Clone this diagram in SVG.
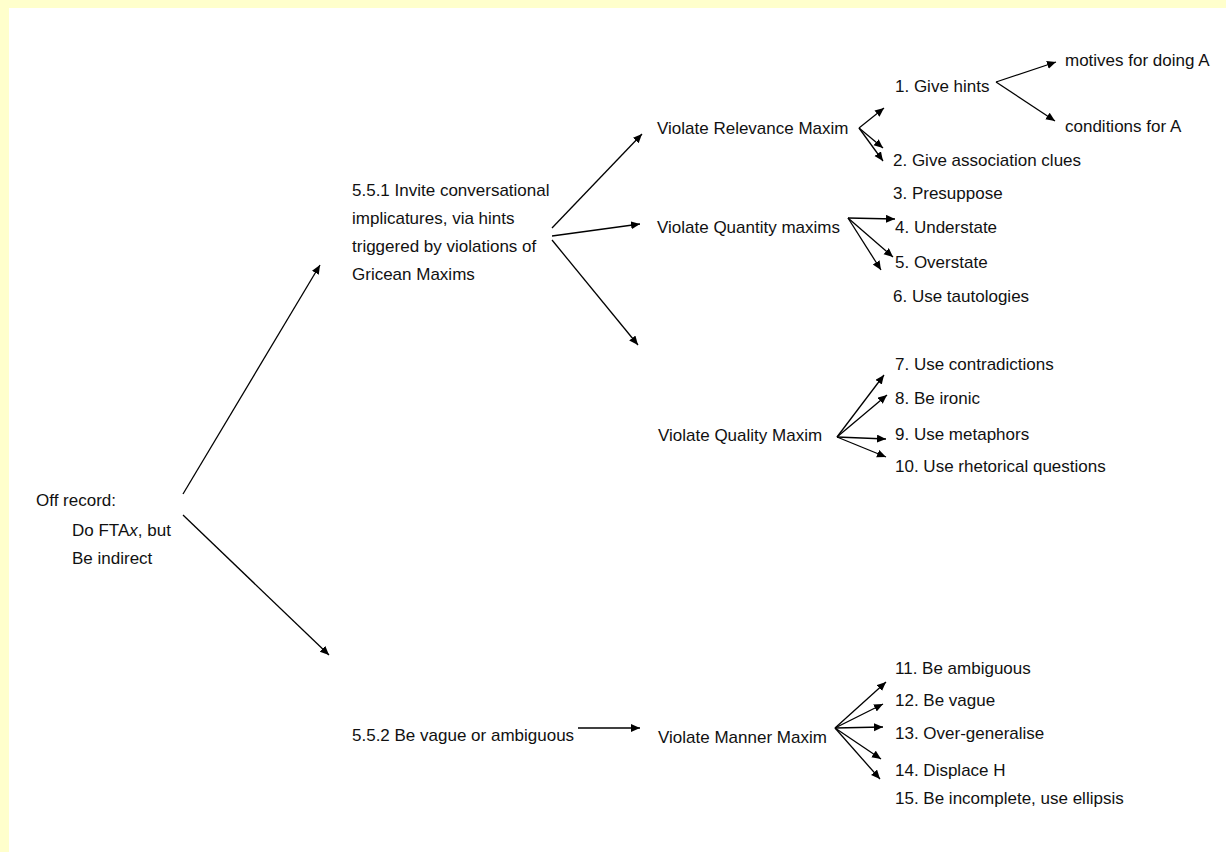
<svg xmlns="http://www.w3.org/2000/svg" width="1226" height="852" viewBox="0 0 1226 852">
<style>
text{font-family:"Liberation Sans",Arial,sans-serif;font-size:17px;fill:#111}
.c line{stroke:#000;stroke-width:1.3;marker-end:url(#ah)}
</style>
<defs>
<marker id="ah" markerUnits="userSpaceOnUse" markerWidth="12" markerHeight="10" refX="9" refY="4" orient="auto">
<path d="M0,0 L9,4 L0,8 Z" fill="#000"/>
</marker>
</defs>
<rect width="1226" height="852" fill="#fff"/>
<rect x="0" y="0" width="1226" height="8" fill="#ffffcc"/>
<rect x="0" y="0" width="9" height="852" fill="#ffffcc"/>

<g id="offrecord">
<text x="36" y="506">Off record:</text>
<text x="72" y="536">Do FTA<tspan font-style="italic">x</tspan>, but</text>
<text x="72" y="564">Be indirect</text>
</g>
<g id="n551">
<text x="352" y="196">5.5.1 Invite conversational</text>
<text x="352" y="224">implicatures, via hints</text>
<text x="352" y="252">triggered by violations of</text>
<text x="352" y="280">Gricean Maxims</text>
</g>
<g id="n552"><text x="352" y="741">5.5.2 Be vague or ambiguous</text></g>
<g id="relevance"><text x="657" y="134">Violate Relevance Maxim</text></g>
<g id="quantity"><text x="657" y="233">Violate Quantity maxims</text></g>
<g id="quality"><text x="658" y="441">Violate Quality Maxim</text></g>
<g id="manner"><text x="658" y="743">Violate Manner Maxim</text></g>
<g id="hints"><text x="895" y="92">1. Give hints</text></g>
<g id="motives"><text x="1065" y="66">motives for doing A</text></g>
<g id="conditions"><text x="1065" y="132">conditions for A</text></g>
<g id="i2"><text x="893" y="166">2. Give association clues</text></g>
<g id="i3"><text x="893" y="199">3. Presuppose</text></g>
<g id="i4"><text x="895" y="233">4. Understate</text></g>
<g id="i5"><text x="895" y="268">5. Overstate</text></g>
<g id="i6"><text x="893" y="302">6. Use tautologies</text></g>
<g id="i7"><text x="895" y="370">7. Use contradictions</text></g>
<g id="i8"><text x="895" y="404">8. Be ironic</text></g>
<g id="i9"><text x="895" y="440">9. Use metaphors</text></g>
<g id="i10"><text x="895" y="472">10. Use rhetorical questions</text></g>
<g id="i11"><text x="895" y="674">11. Be ambiguous</text></g>
<g id="i12"><text x="895" y="706">12. Be vague</text></g>
<g id="i13"><text x="895" y="739">13. Over-generalise</text></g>
<g id="i14"><text x="895" y="776">14. Displace H</text></g>
<g id="i15"><text x="895" y="804">15. Be incomplete, use ellipsis</text></g>

<g class="c" id="connectors">
<line x1="183" y1="494" x2="320" y2="265"/>
<line x1="183" y1="515" x2="329" y2="655"/>
<line x1="552" y1="228" x2="642" y2="134"/>
<line x1="552" y1="236" x2="640" y2="224"/>
<line x1="552" y1="240" x2="638" y2="345"/>
<line x1="578" y1="728" x2="640" y2="728"/>
<line x1="859" y1="128" x2="884" y2="108"/>
<line x1="859" y1="128" x2="883" y2="148"/>
<line x1="859" y1="128" x2="883" y2="161"/>
<line x1="996" y1="82" x2="1056" y2="62"/>
<line x1="996" y1="82" x2="1055" y2="121"/>
<line x1="848" y1="218" x2="895" y2="219"/>
<line x1="848" y1="218" x2="893" y2="257"/>
<line x1="848" y1="218" x2="881" y2="270"/>
<line x1="837" y1="437" x2="884" y2="375"/>
<line x1="837" y1="437" x2="887" y2="395"/>
<line x1="837" y1="437" x2="886" y2="439"/>
<line x1="837" y1="437" x2="886" y2="457"/>
<line x1="835" y1="728" x2="886" y2="682"/>
<line x1="835" y1="728" x2="883" y2="704"/>
<line x1="835" y1="728" x2="883" y2="727"/>
<line x1="835" y1="728" x2="881" y2="759"/>
<line x1="835" y1="728" x2="880" y2="779"/>
</g>
</svg>
